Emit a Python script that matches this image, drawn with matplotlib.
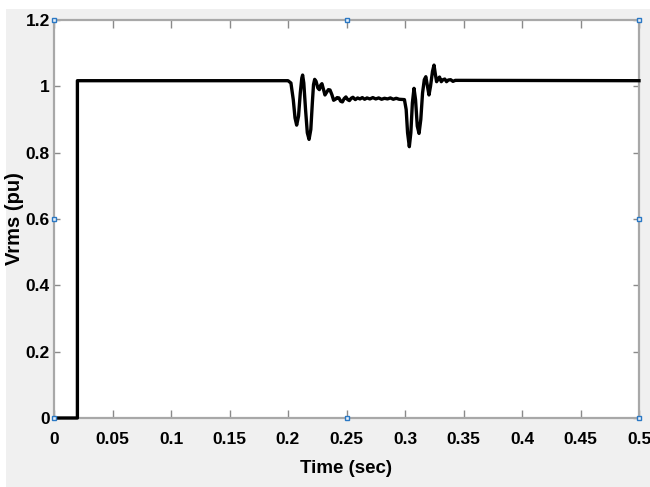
import matplotlib
matplotlib.use("Agg")
import matplotlib.pyplot as plt
from matplotlib.patches import Rectangle

# Vrms response (time in s, voltage in pu)
time_s = [0.0, 0.020, 0.020, 0.200,
          0.2025, 0.2045, 0.2060, 0.2074, 0.2090, 0.2105, 0.2118, 0.2125,
          0.2135, 0.2150, 0.2165, 0.2180, 0.2195, 0.2208, 0.2218, 0.2228,
          0.2240, 0.2255, 0.2268, 0.2280, 0.2290, 0.2300, 0.2316, 0.2330,
          0.2345, 0.2359, 0.2375, 0.2390, 0.2405, 0.2420, 0.2435, 0.2450,
          0.2465, 0.2480, 0.2495, 0.2510, 0.2525, 0.2540, 0.2555, 0.2575,
          0.2595, 0.2615, 0.2635, 0.2655, 0.2675, 0.2700, 0.2725, 0.2750,
          0.2775, 0.2800, 0.2825, 0.2850, 0.2875, 0.2900, 0.2925, 0.2950,
          0.2995, 0.3010, 0.3022, 0.3037, 0.3050, 0.3063, 0.3077, 0.3090,
          0.3105, 0.3120, 0.3135, 0.3150, 0.3165, 0.3178, 0.3192, 0.3205,
          0.3218, 0.3235, 0.3248, 0.3260, 0.3270, 0.3282, 0.3295, 0.3310,
          0.3325, 0.3340, 0.3355, 0.3370, 0.3390, 0.3410, 0.3430, 0.500]
vrms_pu = [0.0, 0.0, 1.017, 1.017,
           1.010, 0.960, 0.905, 0.883, 0.910, 0.980, 1.025, 1.034,
           1.010, 0.930, 0.860, 0.840, 0.870, 0.950, 1.005, 1.021,
           1.015, 0.995, 0.990, 1.004, 1.008, 0.995, 0.974, 0.982,
           0.990, 0.989, 0.975, 0.958, 0.961, 0.966, 0.965, 0.955,
           0.953, 0.963, 0.968, 0.960, 0.957, 0.964, 0.967, 0.960,
           0.965, 0.962, 0.966, 0.961, 0.965, 0.962, 0.966, 0.962,
           0.965, 0.961, 0.964, 0.962, 0.965, 0.961, 0.964, 0.961,
           0.960, 0.930, 0.860, 0.818, 0.860, 0.950, 0.994, 0.960,
           0.880, 0.858, 0.900, 0.980, 1.020, 1.029, 1.000, 0.974,
           1.000, 1.045, 1.064, 1.035, 1.014, 1.022, 1.028, 1.014,
           1.020, 1.022, 1.014, 1.019, 1.020, 1.015, 1.018, 1.017]

x_ticks = [0, 0.05, 0.1, 0.15, 0.2, 0.25, 0.3, 0.35, 0.4, 0.45, 0.5]
x_tick_labels = ["0", "0.05", "0.1", "0.15", "0.2", "0.25", "0.3", "0.35", "0.4", "0.45", "0.5"]
y_ticks = [0, 0.2, 0.4, 0.6, 0.8, 1.0, 1.2]
y_tick_labels = ["0", "0.2", "0.4", "0.6", "0.8", "1", "1.2"]

# selection handles shown on the MATLAB axes
handle_x = [0, 0.25, 0.5, 0, 0.5, 0, 0.25, 0.5]
handle_y = [0, 0, 0, 0.6, 0.6, 1.2, 1.2, 1.2]

W, H = 650, 487
fig = plt.figure(figsize=(W / 100, H / 100), dpi=100, facecolor="white")
fig.patches.append(Rectangle((6 / W, 0), 1 - 6 / W, (H - 9) / H,
                             transform=fig.transFigure, facecolor="#f0f0f0",
                             edgecolor="none", zorder=-10))

ax = fig.add_axes([54 / W, (H - 418) / H, (639 - 54) / W, (418 - 20) / H])
ax.set_facecolor("white")
ax.plot(time_s, vrms_pu, color="black", linewidth=2.4, clip_on=False, zorder=3)
ax.plot(handle_x, handle_y, linestyle="none", marker="s", markersize=3.5,
        markerfacecolor="#e8f0fa", markeredgecolor="#2a78c4", markeredgewidth=1.0,
        clip_on=False, zorder=5)

ax.set_xlim(0, 0.5)
ax.set_ylim(0, 1.2)

tick_font = dict(family="Liberation Sans", weight="bold", size=12.5)
ax.set_xticks(x_ticks)
ax.set_xticklabels(x_tick_labels, fontdict=tick_font)
ax.set_yticks(y_ticks)
ax.set_yticklabels(y_tick_labels, fontdict=tick_font)
ax.tick_params(axis="x", direction="in", length=6, width=1, color="#8a8a8a",
               top=True, pad=10)
ax.tick_params(axis="y", direction="in", length=4, width=1, color="#8a8a8a",
               right=True, pad=3)

for s in ax.spines.values():
    s.set_color("#a8a8a8")
    s.set_linewidth(1.6)

ax.set_xlabel("Time (sec)", family="Liberation Sans", weight="bold", size=13.5)
ax.xaxis.set_label_coords(0.5, (418 - 460) / 398)
ax.set_ylabel("Vrms (pu)", family="Liberation Sans", weight="bold", size=14.5)
ax.yaxis.set_label_coords((24 - 54) / 585, 0.5)

fig.savefig("out.png", dpi=100, facecolor=fig.get_facecolor())
